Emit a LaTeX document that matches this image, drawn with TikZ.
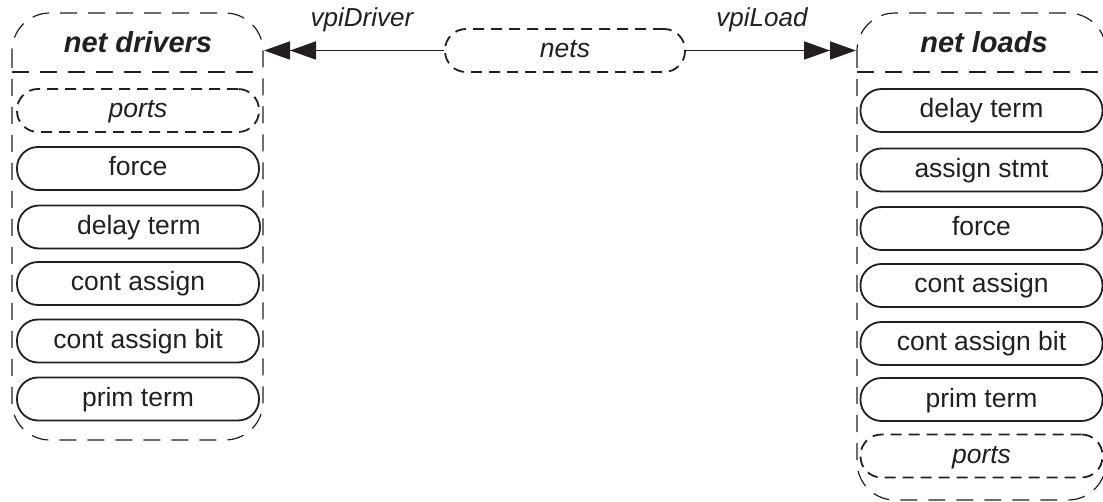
\documentclass[tikz,border=0pt]{standalone}
\usepackage{fontspec}
\setmainfont{Liberation Sans}
\usetikzlibrary{arrows.meta}
\definecolor{ink}{HTML}{231F20}
\begin{document}
\begin{tikzpicture}[x=1pt,y=-1pt,
  pill/.style={draw=ink, line width=1.8pt, rounded corners=21pt, minimum width=242pt, minimum height=43pt, inner sep=0pt, text height=19pt, text depth=4pt, font=\fontsize{26.5}{30}\selectfont, text=ink},
  dpill/.style={pill, dash pattern=on 11pt off 7pt, font=\fontsize{26.5}{30}\selectfont\itshape},
  frame/.style={draw=ink, line width=1.2pt, dash pattern=on 17pt off 11pt},
  head/.style={font=\fontsize{29}{34}\selectfont\bfseries\itshape, text=ink, anchor=base, inner sep=0pt},
  lbl/.style={font=\fontsize{26}{30}\selectfont\itshape, text=ink, anchor=base, inner sep=0pt},
  link/.style={draw=ink, line width=1.8pt, -{Triangle[length=26pt,width=18pt]Triangle[length=26pt,width=18pt]}}
]
\useasboundingbox (0,0) rectangle (1103,502);
% containers
\draw[frame, rounded corners=38pt] (12,13) rectangle (263,440);
\draw[frame] (12,72) -- (263,72);
\draw[frame, rounded corners=38pt] (857,13) rectangle (1106,500);
\draw[frame] (857,72) -- (1106,72);
% headers
\node[head] (drvhead) at (138,53) {net drivers};
\node[head] (ldhead) at (984,53) {net loads};
% left pills
\node[dpill] (dports) at (138,110.5) {ports};
\node[pill] (dforce) at (138,168.5) {force};
\node[pill] (ddelay) at (139,227) {delay term};
\node[pill] (dca) at (138,283.5) {cont assign};
\node[pill] (dcab) at (138,341) {cont assign bit};
\node[pill] (dprim) at (138,399) {prim term};
% right pills
\node[pill] (ldelay) at (981.5,110.5) {delay term};
\node[pill] (lassign) at (981.5,170) {assign stmt};
\node[pill] (lforce) at (981.5,228.5) {force};
\node[pill] (lca) at (981.5,285.5) {cont assign};
\node[pill] (lcab) at (981.5,343.5) {cont assign bit};
\node[pill] (lprim) at (981.5,399.5) {prim term};
\node[dpill] (lports) at (981.5,456) {ports};
% nets
\node[dpill, minimum width=240pt] (nets) at (565,50.5) {nets};
\coordinate (drvport) at (264,50.5);
\coordinate (ldport) at (856,50.5);
\draw[link] (nets.west) -- (drvport);
\draw[link] (nets.east) -- (ldport);
\node[lbl] (vd) at (362,27) {vpiDriver};
\node[lbl] (vl) at (762,27) {vpiLoad};
\end{tikzpicture}
\end{document}
